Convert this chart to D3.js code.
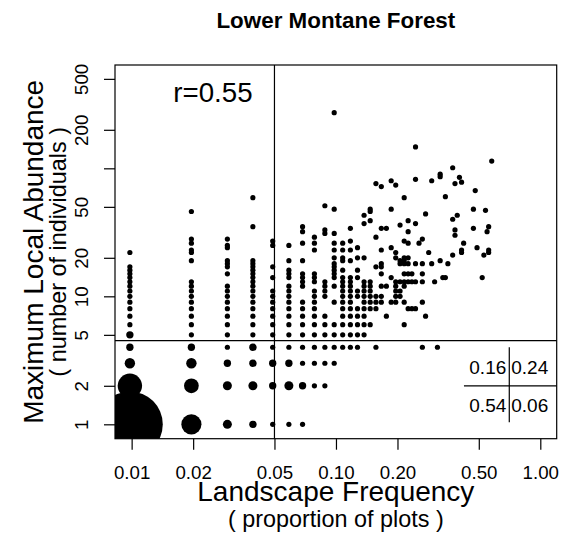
<!DOCTYPE html>
<html>
<head>
<meta charset="utf-8">
<script src="https://cdn.jsdelivr.net/npm/d3@7"></script>
<style>
  body { margin: 0; background: #fff; }
  svg { display: block; font-family: "Liberation Sans", Arial, Helvetica, sans-serif; }
</style>
</head>
<body>
<div id="chart"></div>
<script>
// number of plots in the forest type (frequency = plots occupied / total)
const totalPlots = 102;

// x columns: number of plots a species occurs in
const plotCounts = [1, 2, 3, 4, 5, 6, 7, 8, 9, 10, 11, 12, 13, 14, 15, 16, 17, 18, 19, 20,
  21, 22, 23, 24, 25, 26, 27, 28, 29, 30, 31, 32, 33, 34, 35, 36, 38, 39, 40, 41, 42, 43,
  48, 49, 50, 53, 54, 55, 56, 57, 59];

// max local abundance values found in each column (same order as plotCounts)
const maxAbundance = [
  [1, 2, 3, 4, 5, 6, 7, 8, 9, 10, 11, 12, 13, 14, 15, 16, 17, 22],
  [1, 2, 3, 4, 5, 6, 7, 8, 9, 10, 11, 12, 13, 19, 22, 23, 26, 28, 46],
  [1, 2, 3, 4, 5, 6, 7, 8, 9, 10, 11, 12, 15, 17, 18, 19, 24, 25, 28],
  [1, 2, 3, 4, 5, 6, 7, 8, 9, 10, 11, 12, 13, 14, 15, 16, 17, 18, 19, 35, 59],
  [1, 2, 3, 4, 5, 6, 7, 8, 9, 10, 11, 14, 17, 25, 27],
  [1, 2, 3, 4, 5, 6, 7, 8, 9, 10, 11, 12, 14, 15, 16, 19, 25],
  [1, 2, 3, 4, 5, 6, 7, 8, 9, 12, 13, 14, 15, 19, 26, 32, 35],
  [2, 3, 4, 5, 6, 7, 8, 9, 10, 11, 13, 14, 15, 23, 26, 29],
  [2, 3, 4, 5, 6, 7, 10, 11, 12, 13, 31, 33, 51],
  [3, 4, 5, 6, 9, 12, 14, 15, 16, 17, 18, 20, 23, 26, 31, 48, 272],
  [4, 5, 6, 7, 8, 9, 10, 11, 12, 13, 14, 16, 19, 20, 23, 26],
  [4, 5, 6, 7, 8, 9, 10, 11, 12, 13, 14, 19, 23, 27, 34],
  [4, 5, 6, 7, 8, 10, 11, 14, 16, 20, 24],
  [5, 6, 7, 8, 9, 10, 11, 12, 13, 20, 37, 43],
  [6, 8, 9, 10, 11, 12, 13, 39, 46, 48],
  [4, 8, 9, 10, 17, 29, 76],
  [9, 10, 12, 15, 17, 18, 23, 34, 72],
  [7, 12, 34],
  [9, 14, 24, 48, 80],
  [9, 10, 11, 12, 13, 20, 22, 74],
  [10, 11, 13, 18, 19, 36],
  [6, 9, 12, 13, 15, 18, 19, 20, 27, 59],
  [8, 13, 15, 18, 20, 26, 32, 39],
  [8, 13, 15],
  [8, 13, 18, 37, 82, 147],
  [26],
  [4, 9, 13, 15, 18, 28],
  [7, 44],
  [22],
  [18, 80],
  [13],
  [4],
  [19, 86, 90],
  [14],
  [14, 60],
  [18],
  [21, 40, 101],
  [30, 33, 76],
  [43],
  [85],
  [22, 23, 78],
  [26],
  [34, 48],
  [67],
  [24],
  [14],
  [21],
  [47],
  [32],
  [22, 23, 35],
  [114]
];

// points shared by several species: [plots, max abundance, species]
const stackedPoints = [
  [1, 1, 160], [1, 2, 22], [1, 3, 4], [1, 4, 2], [1, 5, 2],
  [2, 1, 15], [2, 2, 8], [2, 3, 4], [2, 4, 2],
  [3, 1, 3], [3, 2, 3], [3, 3, 2],
  [4, 1, 2], [4, 2, 3], [4, 3, 2], [4, 4, 2],
  [5, 2, 2], [5, 3, 2], [6, 2, 3], [6, 3, 2], [7, 2, 2]
];

const xTicks = [0.01, 0.02, 0.05, 0.10, 0.20, 0.50, 1.00];
const yTicks = [1, 2, 5, 10, 20, 50, 100, 200, 500];
const yTickLabels = ['1', '2', '5', '10', '20', '50', '', '200', '500'];

const freqCut = 0.05;
const abundCut = 4.5;
const rValue = 0.55;
// proportions of species per quadrant: [upper left, upper right], [lower left, lower right]
const quadrantShares = [[0.16, 0.24], [0.54, 0.06]];

const w = 574, h = 536;
const box = { left: 115, right: 556.7, top: 65, bottom: 438.7 };
const lineH = 22.4; // one margin line in px

const svg = d3.select('#chart')
  .append('svg')
  .attr('width', w)
  .attr('height', h);

svg.append('rect').attr('width', w).attr('height', h).attr('fill', '#fff');

const x = d3.scaleLog().domain([0.00829, 1.203]).range([box.left, box.right]);
const y = d3.scaleLog().domain([0.772, 641.6]).range([box.bottom, box.top]);
const r = d3.scaleSqrt().domain([0, 1]).range([0, 2.6]);

svg.append('clipPath')
  .attr('id', 'plot-clip')
  .append('rect')
  .attr('x', box.left)
  .attr('y', box.top)
  .attr('width', box.right - box.left)
  .attr('height', box.bottom - box.top);

// build points
const stackMap = new Map(stackedPoints.map(d => [d[0] + '_' + d[1], d[2]]));
const points = [];
plotCounts.forEach((k, i) => {
  maxAbundance[i].forEach(v => {
    points.push({ freq: k / totalPlots, abund: v, n: stackMap.get(k + '_' + v) || 1 });
  });
});
points.sort((a, b) => b.n - a.n);

svg.append('g')
  .attr('clip-path', 'url(#plot-clip)')
  .selectAll('circle')
  .data(points)
  .enter()
  .append('circle')
  .attr('cx', d => x(d.freq))
  .attr('cy', d => y(d.abund))
  .attr('r', d => r(d.n))
  .attr('fill', '#000');

// quadrant lines
svg.append('line')
  .attr('x1', x(freqCut)).attr('x2', x(freqCut))
  .attr('y1', box.top).attr('y2', box.bottom)
  .attr('stroke', '#000').attr('stroke-width', 1.2);
svg.append('line')
  .attr('x1', box.left).attr('x2', box.right)
  .attr('y1', y(abundCut)).attr('y2', y(abundCut))
  .attr('stroke', '#000').attr('stroke-width', 1.2);

// box
svg.append('rect')
  .attr('x', box.left).attr('y', box.top)
  .attr('width', box.right - box.left).attr('height', box.bottom - box.top)
  .attr('fill', 'none').attr('stroke', '#000').attr('stroke-width', 1.2);

// x axis
const xAxis = d3.axisBottom(x)
  .tickValues(xTicks)
  .tickFormat(d3.format('.2f'))
  .tickSizeInner(11)
  .tickSizeOuter(0);

const gx = svg.append('g')
  .attr('transform', `translate(0, ${box.bottom})`)
  .call(xAxis);
gx.select('.domain').remove();
gx.selectAll('line').attr('stroke', '#000').attr('stroke-width', 1.2);
gx.selectAll('text')
  .attr('y', (1 + 1 - 0.2) * lineH)
  .attr('dy', null)
  .attr('fill', '#000')
  .style('font-size', '18.7px')
  .style('font-family', 'inherit');

// y axis
const yAxis = d3.axisLeft(y)
  .tickValues(yTicks)
  .tickFormat((d, i) => yTickLabels[i])
  .tickSizeInner(11)
  .tickSizeOuter(0);

const gy = svg.append('g')
  .attr('transform', `translate(${box.left}, 0)`)
  .call(yAxis);
gy.select('.domain').remove();
gy.selectAll('line').attr('stroke', '#000').attr('stroke-width', 1.2);
gy.selectAll('text')
  .attr('transform', 'rotate(-90)')
  .attr('x', 0)
  .attr('y', -(1 + 0.2) * lineH)
  .attr('dy', null)
  .attr('text-anchor', 'middle')
  .attr('fill', '#000')
  .style('font-size', '18.7px')
  .style('font-family', 'inherit');

const cx = (box.left + box.right) / 2;
const cy = (box.top + box.bottom) / 2;

// title
svg.append('text')
  .attr('x', cx).attr('y', 27.5)
  .attr('text-anchor', 'middle')
  .style('font-size', '22.4px')
  .style('font-weight', 'bold')
  .text('Lower Montane Forest');

// x labels
svg.append('text')
  .attr('x', cx).attr('y', box.bottom + (2 + 1 - 0.2) * lineH)
  .attr('text-anchor', 'middle')
  .style('font-size', '28px')
  .text('Landscape Frequency');
svg.append('text')
  .attr('x', cx).attr('y', box.bottom + (3 + 1 - 0.2) * lineH + 3)
  .attr('text-anchor', 'middle')
  .style('font-size', '23.4px')
  .text('( proportion of plots )');

// y labels
svg.append('text')
  .attr('transform', `translate(${box.left - (3 + 0.2) * lineH}, ${cy}) rotate(-90)`)
  .attr('text-anchor', 'middle')
  .style('font-size', '28px')
  .text('Maximum Local Abundance');
svg.append('text')
  .attr('transform', `translate(${box.left - (2 + 0.2) * lineH}, ${cy}) rotate(-90)`)
  .attr('text-anchor', 'middle')
  .style('font-size', '23.4px')
  .text('( number of individuals )');

// correlation
svg.append('text')
  .attr('x', x(0.025)).attr('y', y(330))
  .attr('text-anchor', 'middle')
  .style('font-size', '27.7px')
  .text('r=' + rValue.toFixed(2));

// quadrant table
const tx = x(0.705), ty = y(2);
svg.append('line')
  .attr('x1', tx).attr('x2', tx)
  .attr('y1', y(4.0)).attr('y2', y(1.04))
  .attr('stroke', '#000').attr('stroke-width', 1.2);
svg.append('line')
  .attr('x1', x(0.423)).attr('x2', box.right)
  .attr('y1', ty).attr('y2', ty)
  .attr('stroke', '#000').attr('stroke-width', 1.2);

const table = svg.append('g').style('font-size', '19px');
quadrantShares.forEach((row, i) => {
  const by = ty + (i === 0 ? -12 : 26);
  table.append('text')
    .attr('x', tx - 3).attr('y', by)
    .attr('text-anchor', 'end')
    .text(row[0].toFixed(2));
  table.append('text')
    .attr('x', tx + 2).attr('y', by)
    .attr('text-anchor', 'start')
    .text(row[1].toFixed(2));
});
</script>
</body>
</html>
